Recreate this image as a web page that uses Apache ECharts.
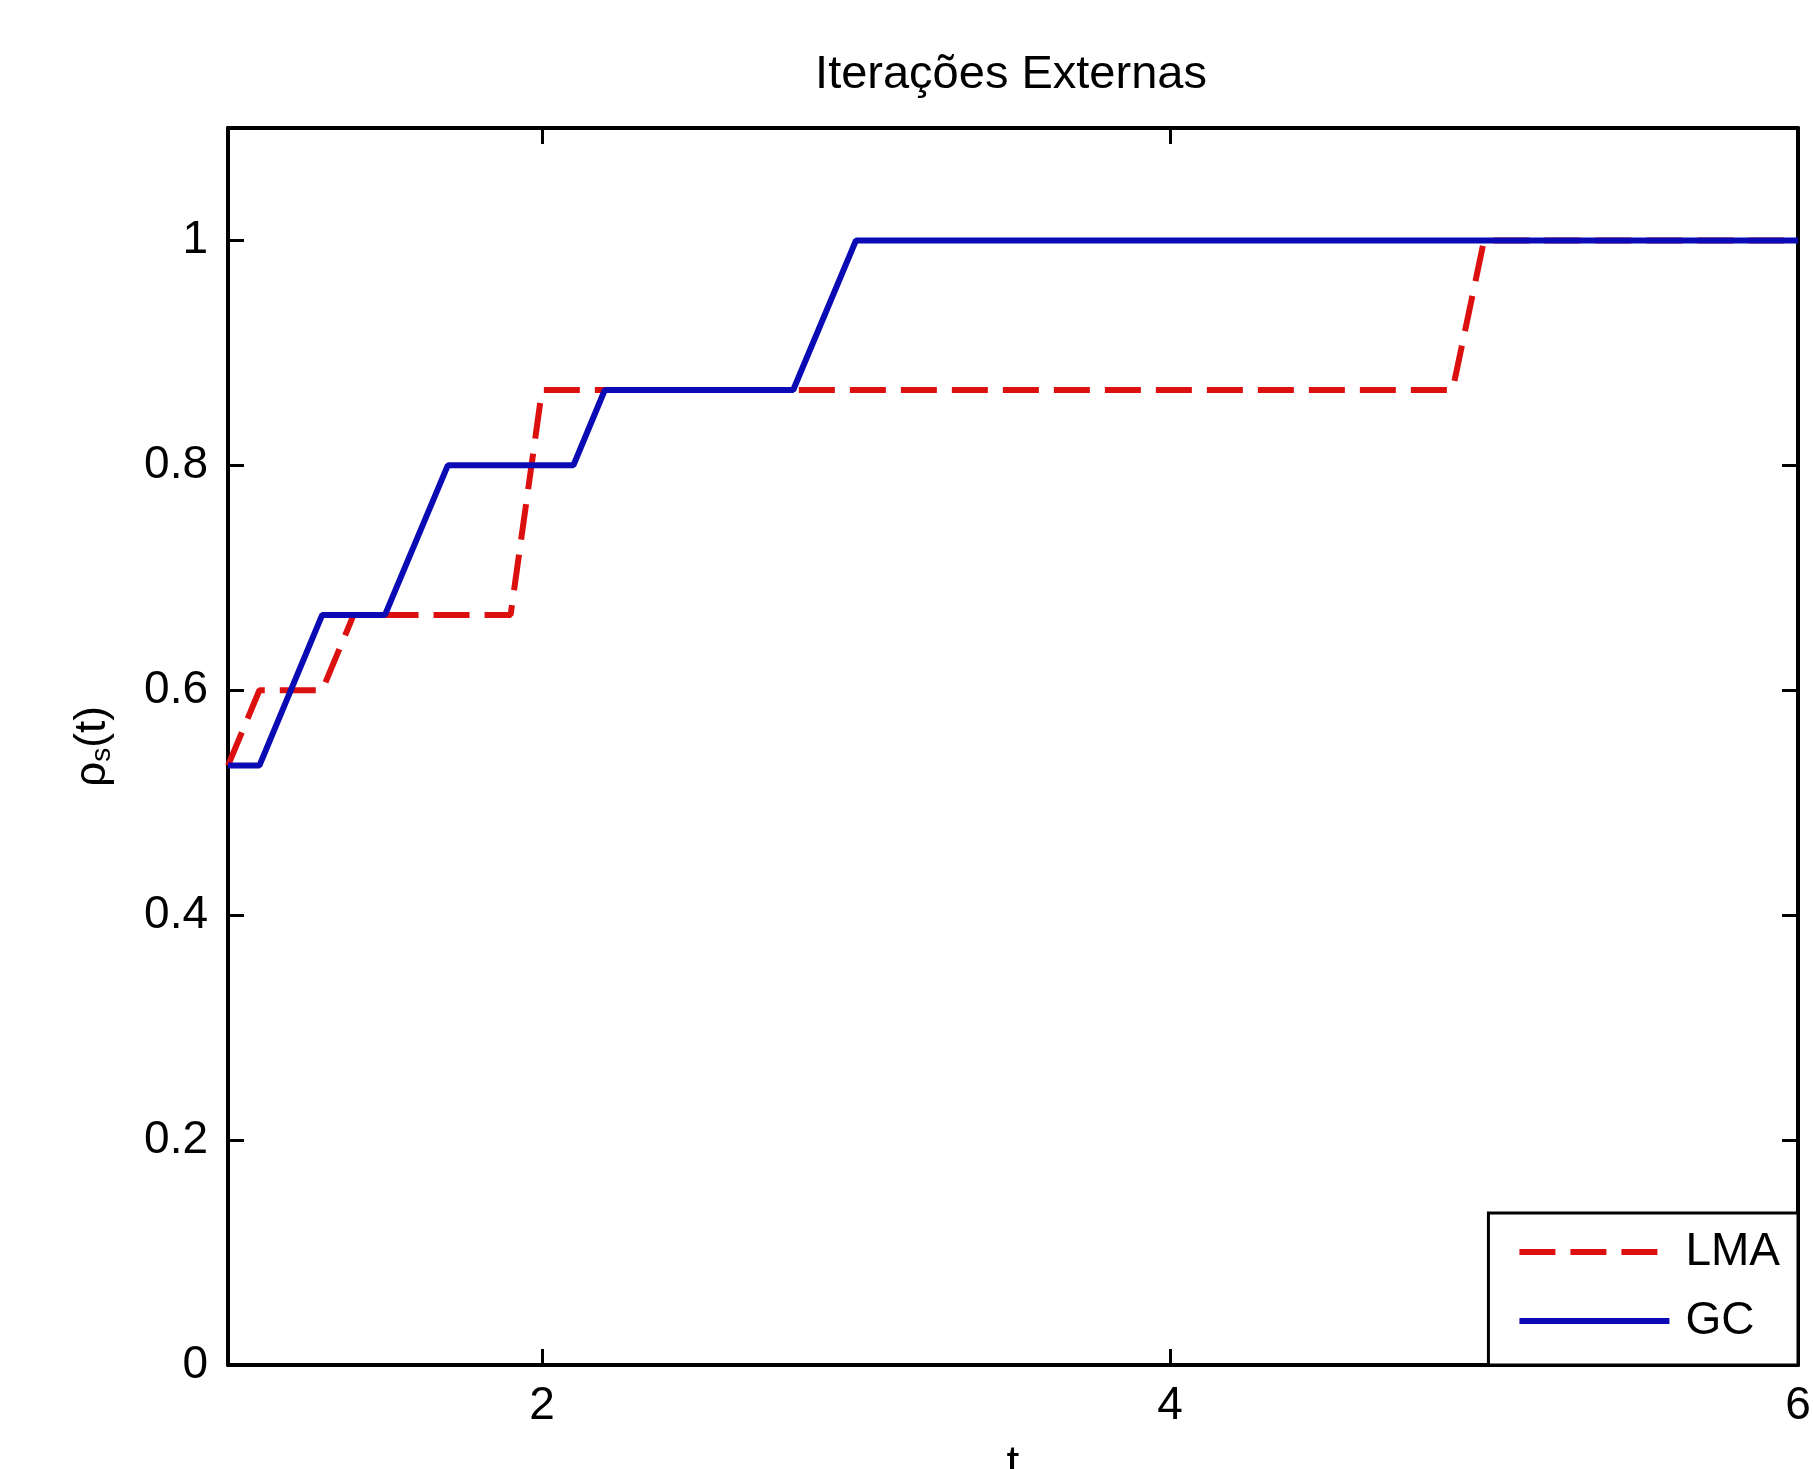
<html>

<head>
    <meta charset="utf-8" />
    <style>
        body { margin: 0; background: #fff; }
    </style>
</head>

<body>
    <div id="perfil" style="width:1813px;height:1469px"></div>
    <script src="https://cdn.jsdelivr.net/npm/echarts@6/dist/echarts.min.js"></script>
    <script>
        // perfil de desempenho - iteracoes externas
        var lmaT = [1, 1.1, 1.3, 1.4, 1.9, 2.0, 4.9, 5.0, 6];
        var lmaRho = [0.533, 0.6, 0.6, 0.667, 0.667, 0.867, 0.867, 1, 1];
        var gcT = [1, 1.1, 1.3, 1.5, 1.7, 2.1, 2.2, 2.8, 3.0, 6];
        var gcRho = [0.533, 0.533, 0.667, 0.667, 0.8, 0.8, 0.867, 0.867, 1, 1];
        var xTicks = [2, 4, 6];
        var yTicks = [0, 0.2, 0.4, 0.6, 0.8, 1];

        function pares(t, v) {
            var out = [];
            for (var i = 0; i < t.length; i++) out.push([t[i], v[i]]);
            return out;
        }

        var fonte = 'Liberation Sans, Arial, sans-serif';
        var eixo = { onZero: false, lineStyle: { color: '#000', width: 4 } };
        var tick = { color: '#000', width: 3 };

        var chart = echarts.init(document.getElementById('perfil'));
        var option = {
            backgroundColor: '#fff',
            animation: false,
            title: {
                text: 'Iterações Externas',
                left: 1006,
                textAlign: 'center',
                top: 47,
                textStyle: { fontFamily: fonte, fontSize: 47, fontWeight: 'normal', color: '#000' }
            },
            grid: { left: 228, right: 15, top: 128, bottom: 104, outerBoundsMode: 'none', containLabel: false },
            legend: {
                orient: 'vertical',
                right: 15,
                bottom: 104,
                backgroundColor: '#fff',
                borderColor: '#000',
                borderWidth: 3,
                padding: [15, 18, 20, 28],
                itemWidth: 150,
                itemHeight: 14,
                itemGap: 21,
                itemStyle: { opacity: 0 },
                lineStyle: { width: 6 },
                textStyle: { fontFamily: fonte, fontSize: 46, color: '#000', lineHeight: 48, padding: [0, 0, 0, 11] },
                data: ['LMA', 'GC']
            },
            xAxis: [{
                type: 'value', min: 1, max: 6,
                name: 't', nameLocation: 'middle', nameGap: 77,
                nameTextStyle: { fontFamily: fonte, fontSize: 46, color: '#000' },
                axisLine: eixo,
                axisTick: { inside: true, length: 16, customValues: xTicks, lineStyle: tick },
                axisLabel: { customValues: xTicks, margin: 18, fontFamily: fonte, fontSize: 46, color: '#000' },
                splitLine: { show: false }
            }, {
                type: 'value', min: 1, max: 6, position: 'top',
                axisLine: eixo,
                axisTick: { inside: true, length: 16, customValues: xTicks, lineStyle: tick },
                axisLabel: { show: false },
                splitLine: { show: false }
            }],
            yAxis: [{
                type: 'value', min: 0, max: 1.1,
                name: '{a|ρ}{b|s}{a|(t)}', nameLocation: 'middle', nameGap: 112,
                nameTextStyle: {
                    rich: {
                        a: { fontFamily: fonte, fontSize: 44, color: '#000' },
                        b: { fontFamily: fonte, fontSize: 28, color: '#000', verticalAlign: 'bottom', padding: [18, 0, 0, 0] }
                    }
                },
                axisLine: eixo,
                axisTick: { inside: true, length: 16, customValues: yTicks, lineStyle: tick },
                axisLabel: { customValues: yTicks, margin: 20, fontFamily: fonte, fontSize: 46, color: '#000' },
                splitLine: { show: false }
            }, {
                type: 'value', min: 0, max: 1.1, position: 'right',
                axisLine: eixo,
                axisTick: { inside: true, length: 16, customValues: yTicks, lineStyle: tick },
                axisLabel: { show: false },
                splitLine: { show: false }
            }],
            series: [{
                name: 'LMA',
                type: 'line',
                data: pares(lmaT, lmaRho),
                symbol: 'none',
                color: '#dd1010',
                lineStyle: { color: '#dd1010', width: 6, type: [36, 15] }
            }, {
                name: 'GC',
                type: 'line',
                data: pares(gcT, gcRho),
                symbol: 'none',
                color: '#0b0bb5',
                lineStyle: { color: '#0b0bb5', width: 6 }
            }]
        };
        chart.setOption(option);
    </script>
</body>

</html>
